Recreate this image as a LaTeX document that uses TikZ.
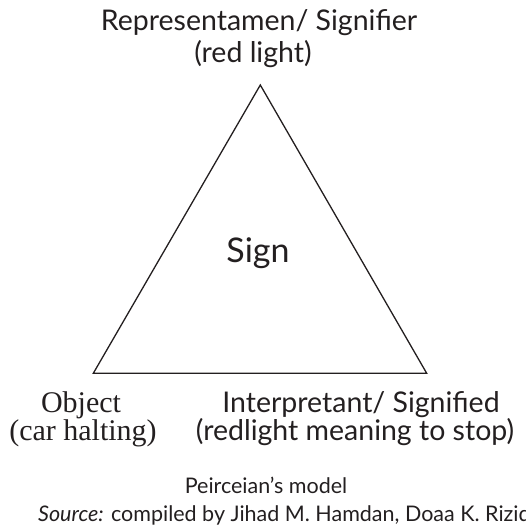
\documentclass[tikz,border=0pt]{standalone}
\usepackage{fontspec}
\setmainfont{Lato}
\newfontfamily\serifface{Liberation Serif}
\definecolor{ink}{HTML}{231F20}
\begin{document}
\begin{tikzpicture}[x=1pt,y=-1pt,
  lbl/.style={text=ink, inner sep=0pt, font=\fontsize{28.5}{31}\selectfont},
  serl/.style={text=ink, inner sep=0pt, font=\serifface\fontsize{30}{28}\selectfont},
  captxt/.style={text=ink, inner sep=0pt, font=\fontsize{21.5}{26}\selectfont}]
\useasboundingbox (0,0) rectangle (525,529);
\coordinate (top) at (260.3,85);
\coordinate (left) at (93.3,373.3);
\coordinate (right) at (426.7,373.3);
\draw[ink, line width=1.3pt, line join=miter] (top) -- (left) -- (right) -- cycle;
\node[lbl, font=\fontsize{34}{36}\selectfont, anchor=base] (sign) at (258,262) {Sign};
\node[lbl, anchor=base] (rep) at (259,31) {Representamen/ Signifier};
\node[lbl, anchor=base] (repb) at (253,63) {(red light)};
\node[serl, anchor=base] (obj) at (81,412) {Object};
\node[serl, anchor=base] (objb) at (83,440) {(car halting)};
\node[lbl, anchor=base] (int) at (361,412) {Interpretant/ Signified};
\node[lbl, anchor=base] (intb) at (355,440) {(redlight meaning to stop)};
\node[captxt, anchor=base] (model) at (266,493) {Peirceian’s model};
\node[captxt, anchor=base west] (src) at (38,521) {\textit{Source:} compiled by Jihad M. Hamdan, Doaa K. Riziq};
\end{tikzpicture}
\end{document}
